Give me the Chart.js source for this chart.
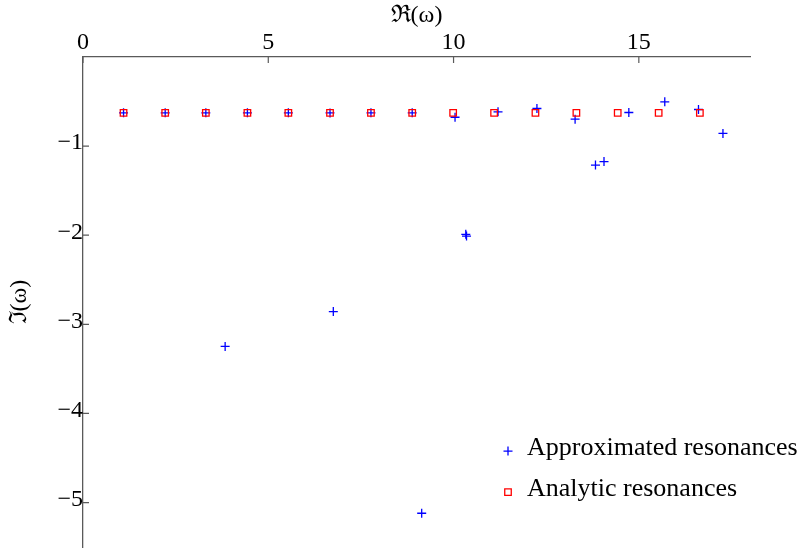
<!DOCTYPE html>
<html>
<head>
<meta charset="utf-8">
<script src="https://cdn.jsdelivr.net/npm/chart.js@4.4.1/dist/chart.umd.min.js"></script>
<style>
  html, body { margin: 0; padding: 0; background: #ffffff; overflow: hidden; }
  #wrap { width: 803px; height: 553px; }
</style>
</head>
<body>
<div id="wrap"><canvas id="c" width="803" height="553"></canvas></div>
<script>
// Resonance positions in the complex plane: real part (x) and imaginary part (y)
const approxRe = [1.094, 2.218, 3.315, 4.437, 5.542, 6.666, 7.771, 8.884,
                  10.04, 11.20, 12.25, 13.28, 14.73, 15.70, 16.61, 17.27,
                  13.83, 14.06, 10.33, 10.35, 9.14, 6.755, 3.836];
const approxIm = [-0.626, -0.626, -0.626, -0.626, -0.626, -0.628, -0.626, -0.626,
                  -0.676, -0.615, -0.578, -0.698, -0.623, -0.503, -0.589, -0.858,
                  -1.213, -1.174, -1.99, -2.01, -5.12, -2.857, -3.248];

const analyticRe = [1.094, 2.218, 3.315, 4.437, 5.542, 6.666, 7.771, 8.884,
                    9.989, 11.094, 12.21, 13.315, 14.43, 15.535, 16.647];
const analyticIm = [-0.626, -0.626, -0.626, -0.626, -0.626, -0.626, -0.626, -0.626,
                    -0.626, -0.626, -0.626, -0.626, -0.626, -0.626, -0.626];

const seriesNames = ['Approximated resonances', 'Analytic resonances'];
const xTicks = [0, 5, 10, 15];
const yTicks = [-1, -2, -3, -4, -5];
const xRange = [0, 18];
const yRange = [-5.5, 0];

const FONT = '"Liberation Serif", "DejaVu Serif", serif';
const AXIS = '#5a5a5a';

const toPoints = (xs, ys) => xs.map((x, i) => ({ x: x, y: ys[i] }));
const minus = v => (v < 0 ? '\u2212' + Math.abs(v) : String(v));

// Short tick marks pointing into the plot area
const innerTicks = {
  id: 'innerTicks',
  afterDatasetsDraw(chart) {
    const { ctx, chartArea: a } = chart;
    const xs = chart.scales.x, ys = chart.scales.y;
    ctx.save();
    ctx.strokeStyle = AXIS;
    ctx.lineWidth = 1.2;
    ctx.beginPath();
    xs.ticks.forEach(t => {
      const px = xs.getPixelForValue(t.value);
      ctx.moveTo(px, a.top);
      ctx.lineTo(px, a.top + 6);
    });
    ys.ticks.forEach(t => {
      const py = ys.getPixelForValue(t.value);
      ctx.moveTo(a.left, py);
      ctx.lineTo(a.left + 6, py);
    });
    ctx.stroke();
    ctx.restore();
  }
};

// Legend placed inside the plot, lower right
const innerLegend = {
  id: 'innerLegend',
  afterDraw(chart) {
    const { ctx, chartArea: a } = chart;
    const x0 = a.right - 242;
    const rows = [a.bottom - 96, a.bottom - 55];
    chart.data.datasets.forEach((ds, i) => {
      const y = rows[i];
      ctx.save();
      ctx.fillStyle = ds.backgroundColor;
      ctx.strokeStyle = ds.borderColor;
      ctx.lineWidth = ds.borderWidth;
      Chart.helpers.drawPoint(ctx, {
        pointStyle: ds.pointStyle,
        radius: ds.pointRadius,
        borderWidth: ds.borderWidth,
        rotation: 0
      }, x0, y);
      ctx.fillStyle = '#000';
      ctx.font = '26px ' + FONT;
      ctx.textAlign = 'left';
      ctx.textBaseline = 'middle';
      ctx.fillText(ds.label, x0 + 19, y - 3);
      ctx.restore();
    });
  }
};

const dropEdgePadding = s => {
  s.paddingTop = 0; s.paddingBottom = 0;
  s.paddingLeft = 0; s.paddingRight = 0;
};

new Chart(document.getElementById('c'), {
  type: 'scatter',
  data: {
    datasets: [
      {
        label: seriesNames[0],
        data: toPoints(approxRe, approxIm),
        pointStyle: 'cross',
        pointRadius: 4.5,
        borderWidth: 1.3,
        borderColor: '#0000ff',
        backgroundColor: '#0000ff',
        order: 2
      },
      {
        label: seriesNames[1],
        data: toPoints(analyticRe, analyticIm),
        pointStyle: 'rect',
        pointRadius: 4.6,
        borderWidth: 1.3,
        borderColor: '#ff0000',
        backgroundColor: 'rgba(0,0,0,0)',
        order: 1
      }
    ]
  },
  options: {
    responsive: false,
    animation: false,
    devicePixelRatio: 1,
    layout: { padding: { left: 0, right: 53, top: 0, bottom: 0 } },
    plugins: {
      legend: { display: false },
      tooltip: { enabled: false }
    },
    scales: {
      x: {
        type: 'linear',
        position: 'top',
        min: xRange[0],
        max: xRange[1],
        afterBuildTicks: s => { s.ticks = xTicks.map(v => ({ value: v })); },
        afterFit: s => { s.height = 57; dropEdgePadding(s); },
        grid: { drawOnChartArea: false, drawTicks: false },
        border: { display: true, color: AXIS, width: 1.3 },
        ticks: {
          padding: 0,
          color: '#000',
          font: { family: FONT, size: 24 },
          maxRotation: 0,
          callback: v => minus(v)
        },
        title: {
          display: true,
          text: '\u211C(\u03C9)',
          color: '#000',
          font: { family: FONT, size: 24 },
          padding: { top: 1, bottom: 0 }
        }
      },
      y: {
        type: 'linear',
        position: 'left',
        min: yRange[0],
        max: yRange[1],
        afterBuildTicks: s => { s.ticks = yTicks.map(v => ({ value: v })); },
        afterFit: s => { s.width = 83; dropEdgePadding(s); },
        grid: { drawOnChartArea: false, drawTicks: false },
        border: { display: true, color: AXIS, width: 1.3 },
        ticks: {
          padding: 0,
          labelOffset: -3,
          color: '#000',
          font: { family: FONT, size: 24 },
          callback: v => minus(v)
        },
        title: {
          display: true,
          text: '\u2111(\u03C9)',
          color: '#000',
          font: { family: FONT, size: 24 },
          padding: { top: 5, bottom: 0 }
        }
      }
    }
  },
  plugins: [innerTicks, innerLegend]
});
</script>
</body>
</html>
